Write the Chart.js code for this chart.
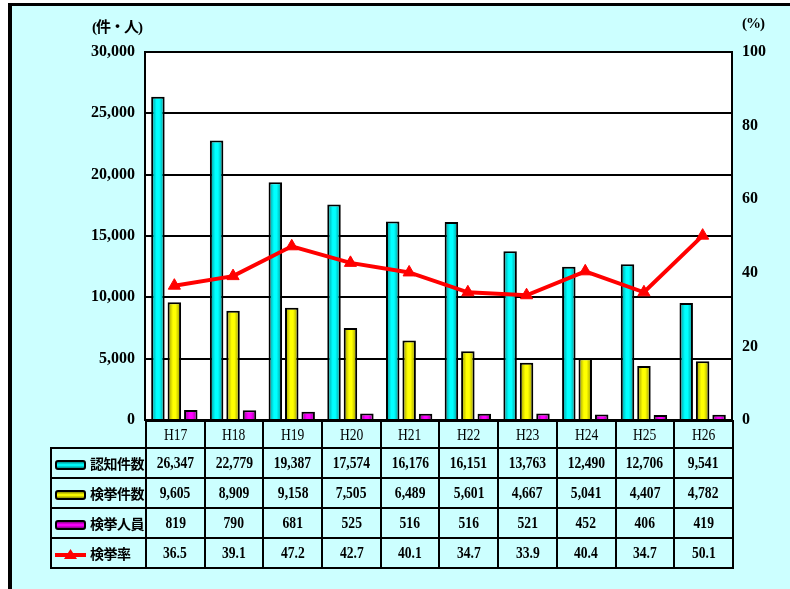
<!DOCTYPE html>
<html lang="ja">
<head>
<meta charset="utf-8">
<script src="https://cdn.jsdelivr.net/npm/chart.js@4.4.1/dist/chart.umd.min.js"></script>
<style>
  html, body { margin: 0; padding: 0; background: #fff; }
  body { width: 790px; height: 589px; position: relative; overflow: hidden; }
  #frame {
    position: absolute; left: 8px; top: 3px; width: 790px; height: 584px;
    background: #ccffff; border-left: 4px solid #000; border-top: 3px solid #000;
    border-bottom: 1px solid #9fdede;
  }
  #chart { position: absolute; left: 0; top: 0; }
  .unit {
    position: absolute; top: 15px; height: 20px; line-height: 20px; color: #000;
    font: bold 15px "Liberation Serif", "Noto Sans CJK JP", serif; letter-spacing: -1px;
  }
  #tbl {
    position: absolute; border-collapse: collapse; table-layout: fixed;
    font: bold 17px "Liberation Serif", serif; color: #000;
  }
  #tbl td { border: 2px solid #000; text-align: center; padding: 0; white-space: nowrap; overflow: hidden; }
  #tbl td span.num { display: inline-block; transform: scaleX(0.8); }
  #tbl td.blank { border: none; }
  #tbl tr.head td { font-weight: normal; }
  #tbl td.name {
    text-align: left; padding-left: 3px;
    font: bold 14px "Noto Sans CJK JP", sans-serif; letter-spacing: -0.5px;
  }
  .swatch {
    display: inline-block; width: 27px; height: 6px; margin-right: 4px; vertical-align: middle;
    border: 2px solid #000; border-radius: 3px;
  }
  .lineSwatch { display: inline-block; vertical-align: middle; margin-right: 4px; }
</style>
</head>
<body>
<div id="frame"></div>
<canvas id="chart" width="790" height="589"></canvas>
<div class="unit" style="left:92px">(件・人)</div>
<div class="unit" style="left:742px">(%)</div>
<table id="tbl"></table>
<script>
const categories = ['H17', 'H18', 'H19', 'H20', 'H21', 'H22', 'H23', 'H24', 'H25', 'H26']
const recognized = [26347, 22779, 19387, 17574, 16176, 16151, 13763, 12490, 12706, 9541]
const cleared = [9605, 8909, 9158, 7505, 6489, 5601, 4667, 5041, 4407, 4782]
const arrested = [819, 790, 681, 525, 516, 516, 521, 452, 406, 419]
const clearRate = [36.5, 39.1, 47.2, 42.7, 40.1, 34.7, 33.9, 40.4, 34.7, 50.1]

const seriesNames = ['認知件数', '検挙件数', '検挙人員', '検挙率']
const leftTicks = { min: 0, max: 30000, step: 5000 }
const rightTicks = { min: 0, max: 100, step: 20 }

const barColors = [
  { edge: '#008f8f', mid: '#00ffff' },
  { edge: '#8f8f00', mid: '#ffff00' },
  { edge: '#8a008a', mid: '#ff00ff' },
]
const lineColor = '#ff0000'
const tickFont = { family: '"Liberation Serif", serif', size: 16, weight: 'bold' }

// cylinder-like horizontal shading per bar
function barFill(edge, mid) {
  return (ctx) => {
    const el = ctx.element
    if (!el || !isFinite(el.x) || !el.width) return mid
    const half = el.width / 2
    const g = ctx.chart.ctx.createLinearGradient(el.x - half, 0, el.x + half, 0)
    g.addColorStop(0, edge)
    g.addColorStop(0.4, mid)
    g.addColorStop(0.6, mid)
    g.addColorStop(1, edge)
    return g
  }
}

const plotBackground = {
  id: 'plotBackground',
  beforeDraw(chart) {
    const { ctx, chartArea: a } = chart
    ctx.save()
    ctx.fillStyle = '#ffffff'
    ctx.fillRect(a.left, a.top, a.width, a.height)
    ctx.restore()
  },
}

const barData = [recognized, cleared, arrested]
const datasets = barData.map((values, i) => ({
  type: 'bar',
  label: seriesNames[i],
  data: values,
  yAxisID: 'y',
  order: 2,
  backgroundColor: barFill(barColors[i].edge, barColors[i].mid),
  borderColor: '#000000',
  borderWidth: 2,
  borderSkipped: 'start',
  categoryPercentage: 0.84,
  barPercentage: 0.82,
}))
datasets.push({
  type: 'line',
  label: seriesNames[3],
  data: clearRate,
  yAxisID: 'y1',
  order: 0,
  borderColor: lineColor,
  backgroundColor: lineColor,
  borderWidth: 4,
  pointStyle: 'triangle',
  pointRadius: 7,
  pointBorderWidth: 1,
  pointBackgroundColor: lineColor,
  pointBorderColor: lineColor,
  tension: 0,
})

const chart = new Chart(document.getElementById('chart').getContext('2d'), {
  data: { labels: categories, datasets },
  options: {
    responsive: false,
    animation: false,
    layout: { padding: { top: 52, bottom: 169, left: 0, right: 0 } },
    plugins: { legend: { display: false }, tooltip: { enabled: false } },
    scales: {
      x: { display: false, offset: true },
      y: {
        position: 'left',
        min: leftTicks.min,
        max: leftTicks.max,
        afterFit(scale) { scale.width = 145 },
        ticks: {
          stepSize: leftTicks.step,
          color: '#000',
          font: tickFont,
          padding: 10,
          callback: (v) => v.toLocaleString('en-US'),
        },
        grid: { color: '#000', lineWidth: 2, drawTicks: false },
        border: { display: true, color: '#000', width: 2 },
      },
      y1: {
        position: 'right',
        min: rightTicks.min,
        max: rightTicks.max,
        afterFit(scale) { scale.width = 58 },
        ticks: { stepSize: rightTicks.step, color: '#000', font: tickFont, padding: 10 },
        grid: { display: false, drawTicks: false },
        border: { display: true, color: '#000', width: 2 },
      },
    },
  },
  plugins: [plotBackground],
})
// second pass so the bar shading can use the laid-out bar positions
chart.update()

// data table under the plot, aligned to the category bands
function buildTable() {
  const area = chart.chartArea
  const colW = area.width / categories.length
  const nameW = 95
  const tbl = document.getElementById('tbl')
  tbl.style.left = (area.left - nameW) + 'px'
  tbl.style.top = area.bottom + 'px'
  tbl.style.width = (nameW + area.width) + 'px'

  let html = '<colgroup><col style="width:' + nameW + 'px">'
  categories.forEach(() => { html += '<col style="width:' + colW + 'px">' })
  html += '</colgroup>'
  html += '<tr class="head" style="height:27px"><td class="blank"></td>'
  categories.forEach((c) => { html += '<td><span class="num">' + c + '</span></td>' })
  html += '</tr>'

  const rows = [recognized, cleared, arrested, clearRate]
  rows.forEach((values, i) => {
    let marker
    if (i < 3) {
      const c = barColors[i]
      marker = '<span class="swatch" style="background:linear-gradient(to bottom,' +
        c.edge + ',' + c.mid + ' 45%,' + c.mid + ' 55%,' + c.edge + ')"></span>'
    } else {
      marker = '<svg class="lineSwatch" width="31" height="12"><line x1="0" y1="6" x2="31" y2="6" stroke="' +
        lineColor + '" stroke-width="4"/><polygon points="15.5,0 22,10 9,10" fill="' + lineColor + '"/></svg>'
    }
    html += '<tr style="height:30px"><td class="name">' + marker + seriesNames[i] + '</td>'
    values.forEach((v) => {
      const txt = i < 3 ? v.toLocaleString('en-US') : v.toFixed(1)
      html += '<td><span class="num">' + txt + '</span></td>'
    })
    html += '</tr>'
  })
  tbl.innerHTML = html
}
buildTable()
</script>
</body>
</html>
